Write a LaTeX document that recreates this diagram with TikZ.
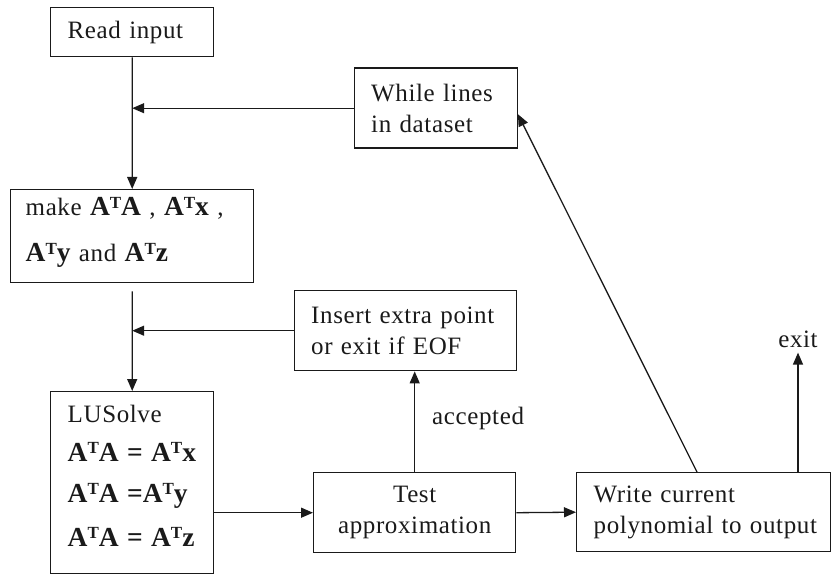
\documentclass[tikz,border=0pt]{standalone}
\usepackage{fontspec}
\setmainfont{Liberation Serif}[LetterSpace=2.5]
\newfontfamily\eqfamily{Liberation Serif}
\usetikzlibrary{arrows.meta,calc}

% bold matrix products with a small raised T
\newcommand\Tsup{\raisebox{7.5bp}{\fontsize{17bp}{17bp}\selectfont\eqfamily\bfseries T}}
\newcommand\eqfont{\fontsize{27.5bp}{31bp}\selectfont\eqfamily\bfseries}
\newcommand\bodyfont{\fontsize{25bp}{31bp}\selectfont}

\definecolor{ink}{HTML}{1A1A1A}

\tikzset{
  box/.style={draw=ink, line width=1.4bp, rectangle, anchor=north west,
    inner xsep=17bp, inner ysep=0bp, align=left, font=\bodyfont, text=ink},
  arr/.style={draw=ink, line width=1.3bp, -{Triangle[length=12bp,width=10bp]}},
  lbl/.style={font=\bodyfont, text=ink, inner sep=2bp}
}

\begin{document}
\begin{tikzpicture}[x=1bp, y=-1bp]
  \useasboundingbox (0,0) rectangle (831,574);

  % process boxes
  \node[box, minimum width=163bp, minimum height=49bp, text width=129bp]
    (read) at (50,7) {\mbox{Read input}};
  \node[box, minimum width=163bp, minimum height=80bp, text width=129bp]
    (while) at (353.5,67.5) {\mbox{While lines}\\\mbox{in dataset}};
  \node[box, minimum width=243bp, minimum height=93bp, inner xsep=15bp, text width=213bp,
        text height=19bp, text depth=60bp]
    (make) at (10,189)
    {\mbox{make {\eqfont A\Tsup A} , {\eqfont A\Tsup x} ,}\\[15bp]
     \mbox{{\eqfont A\Tsup y} and {\eqfont A\Tsup z}}};
  \node[box, minimum width=222bp, minimum height=80bp, text width=188bp]
    (insert) at (293.5,290) {\mbox{Insert extra point}\\\mbox{or exit if EOF}};
  \node[box, minimum width=163bp, minimum height=181.5bp, text width=129bp,
        text height=17bp, text depth=137bp]
    (lu) at (50,391)
    {\mbox{LUSolve}\\[8bp]
     \mbox{\eqfont A\Tsup A = A\Tsup x}\\[10bp]
     \mbox{\eqfont A\Tsup A =A\Tsup y}\\[13bp]
     \mbox{\eqfont A\Tsup A = A\Tsup z}};
  \node[box, minimum width=202bp, minimum height=80bp, text width=168bp, align=center]
    (test) at (313,472) {\mbox{Test}\\\mbox{approximation}};
  \node[box, minimum width=253.5bp, minimum height=79bp, text width=219.5bp]
    (write) at (576,472) {\mbox{Write current}\\\mbox{polynomial to output}};

  % free labels
  \node[lbl, inner sep=5bp] (exit) at (798,339) {exit};
  \node[lbl, anchor=west] (acc) at (430,418) {accepted};

  % main flow
  \draw[arr] (read.south) -- (make.north);
  \coordinate (j1) at (read.south |- while.west);
  \draw[arr] (while.west) -- (j1);

  \draw[arr, shorten <=8bp] (make.south) -- (lu.north);
  \coordinate (j2) at (make.south |- insert.west);
  \draw[arr] (insert.west) -- (j2);

  \draw[arr] (lu.east |- test.west) -- (test.west);
  \draw[arr] (test.east) -- (write.west);
  \draw[arr] (test.north) -- (test.north |- insert.south);

  % loop back and exit
  \coordinate (wtop) at ([xshift=121bp]write.north west);
  \coordinate (wend) at ([yshift=-6bp]while.east);
  \draw[arr] (wtop) -- (wend);
  \draw[arr] (write.north -| exit.south) -- (exit.south);
\end{tikzpicture}
\end{document}
